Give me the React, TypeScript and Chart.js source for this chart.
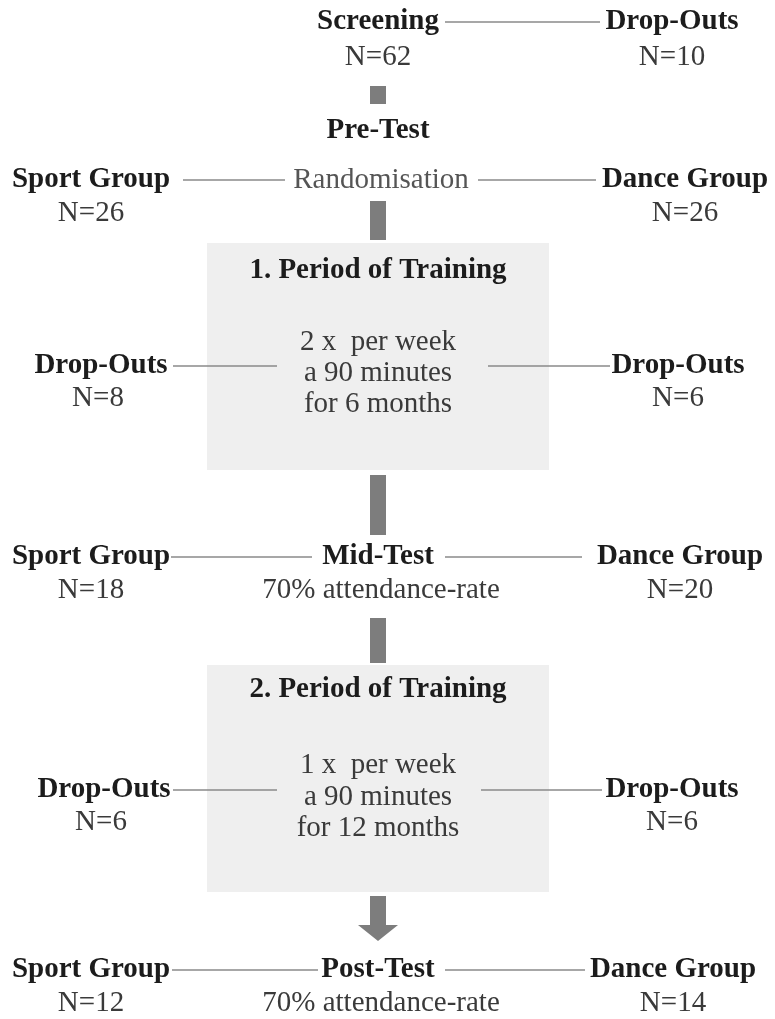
import React, { useEffect, useRef } from "react";
import { Chart, registerables } from "chart.js";

Chart.register(...registerables);

// ---- values ----
const screeningLabel = "Screening";
const screeningN = 62;
const screeningDropOuts = 10;
const stageLabels = ["Pre-Test", "Mid-Test", "Post-Test"];
const stageNotes = ["Randomisation", "70% attendance-rate", "70% attendance-rate"];
const groupLabels = ["Sport Group", "Dance Group"];
const sportN = [26, 18, 12];
const danceN = [26, 20, 14];
const periodTitles = ["1. Period of Training", "2. Period of Training"];
const periodLines = [
  ["2 x  per week", "a 90 minutes", "for 6 months"],
  ["1 x  per week", "a 90 minutes", "for 12 months"],
];
const dropOutLabel = "Drop-Outs";
const dropOutsSport = [8, 6];
const dropOutsDance = [6, 6];

// ---- layout (data space = 775 x 1019, y downward) ----
const W = 775;
const H = 1019;
const CX = 378;
const groupRowsY = [180, 557, 970];
const groupXs = [[91, 685], [91, 680], [91, 673]];
const stageTitleY = [131, 557, 970];
const boxes = [
  { x0: 207, x1: 549, y0: 243, y1: 470 },
  { x0: 207, x1: 549, y0: 665, y1: 892 },
];
const boxTitleY = [271, 690];
const boxLinesY = [[342, 373, 404], [765, 797, 828]];
const dropRowY = [366, 790];
const dropXs = [[101, 678], [104, 672]];

const BOLD = (s: number) => `bold ${s}px "Liberation Serif", "Times New Roman", serif`;
const REG = (s: number) => `${s}px "Liberation Serif", "Times New Roman", serif`;
const DARK = "#1c1c1c";
const MID = "#3a3a3a";
const LIGHT = "#555555";
const LINE = "#8a8a8a";
const BAR = "#7d7d7d";
const BOXFILL = "#efefef";
const FS = 29;

const flowPlugin = {
  id: "flow",
  afterDatasetsDraw(chart: any) {
    const ctx = chart.ctx;
    const sx = chart.scales.x;
    const sy = chart.scales.y;
    const X = (v: number) => sx.getPixelForValue(v);
    const Y = (v: number) => sy.getPixelForValue(v);
    ctx.save();

    // boxes
    ctx.fillStyle = BOXFILL;
    boxes.forEach((b) => {
      ctx.fillRect(X(b.x0), Y(b.y0), X(b.x1) - X(b.x0), Y(b.y1) - Y(b.y0));
    });

    // thick connector bars
    ctx.fillStyle = BAR;
    const bars = [
      [86, 104],
      [201, 240],
      [475, 535],
      [618, 663],
      [896, 926],
    ];
    bars.forEach(([a, b]) => {
      ctx.fillRect(X(CX - 8), Y(a), X(CX + 8) - X(CX - 8), Y(b) - Y(a));
    });
    // arrow head
    ctx.beginPath();
    ctx.moveTo(X(CX - 20), Y(925));
    ctx.lineTo(X(CX + 20), Y(925));
    ctx.lineTo(X(CX), Y(941));
    ctx.closePath();
    ctx.fill();

    // thin lines
    ctx.strokeStyle = LINE;
    ctx.lineWidth = 1.6;
    const hl = (x0: number, x1: number, y: number) => {
      ctx.beginPath();
      ctx.moveTo(X(x0), Y(y));
      ctx.lineTo(X(x1), Y(y));
      ctx.stroke();
    };
    hl(445, 600, 22);
    hl(183, 285, 180);
    hl(478, 596, 180);
    hl(173, 277, 366);
    hl(488, 610, 366);
    hl(171, 312, 557);
    hl(445, 582, 557);
    hl(173, 277, 790);
    hl(481, 602, 790);
    hl(172, 318, 970);
    hl(445, 585, 970);

    // text
    ctx.textAlign = "center";
    ctx.textBaseline = "middle";
    const t = (s: string, x: number, y: number, font: string, color: string) => {
      ctx.font = font;
      ctx.fillStyle = color;
      ctx.fillText(s, X(x), Y(y));
    };
    t(screeningLabel, CX, 22, BOLD(FS), DARK);
    t(`N=${screeningN}`, CX, 57, REG(FS), MID);
    t(dropOutLabel, 672, 22, BOLD(FS), DARK);
    t(`N=${screeningDropOuts}`, 672, 57, REG(FS), MID);

    stageLabels.forEach((s, i) => {
      t(s, CX, stageTitleY[i], BOLD(FS), DARK);
    });
    t(stageNotes[0], 381, 180, REG(FS), LIGHT);
    t(stageNotes[1], CX + 3, 590, REG(FS), MID);
    t(stageNotes[2], CX + 3, 1003, REG(FS), MID);

    groupRowsY.forEach((y, i) => {
      t(groupLabels[0], groupXs[i][0], y, BOLD(FS), DARK);
      t(`N=${sportN[i]}`, groupXs[i][0], y + 33, REG(FS), MID);
      t(groupLabels[1], groupXs[i][1], y, BOLD(FS), DARK);
      t(`N=${danceN[i]}`, groupXs[i][1], y + 33, REG(FS), MID);
    });

    periodTitles.forEach((s, i) => {
      t(s, CX, boxTitleY[i], BOLD(FS), DARK);
      periodLines[i].forEach((ln, j) => t(ln, CX, boxLinesY[i][j], REG(FS), MID));
      t(dropOutLabel, dropXs[i][0], dropRowY[i], BOLD(FS), DARK);
      t(`N=${dropOutsSport[i]}`, dropXs[i][0] - 3, dropRowY[i] + 32, REG(FS), MID);
      t(dropOutLabel, dropXs[i][1], dropRowY[i], BOLD(FS), DARK);
      t(`N=${dropOutsDance[i]}`, dropXs[i][1], dropRowY[i] + 32, REG(FS), MID);
    });

    ctx.restore();
  },
};

export default function App() {
  const ref = useRef<HTMLCanvasElement | null>(null);
  useEffect(() => {
    if (!ref.current) return;
    const pts = [{ x: CX, y: 22 }, ...stageTitleY.map((y) => ({ x: CX, y }))];
    const chart = new Chart(ref.current, {
      type: "scatter",
      data: {
        datasets: [
          { label: "stages", data: pts, pointRadius: 0, showLine: false },
        ],
      },
      options: {
        animation: false,
        responsive: false,
        devicePixelRatio: 1,
        layout: { padding: 0 },
        plugins: { legend: { display: false }, tooltip: { enabled: false } },
        scales: {
          x: { type: "linear", min: 0, max: W, display: false },
          y: { type: "linear", min: 0, max: H, reverse: true, display: false },
        },
      },
      plugins: [flowPlugin],
    });
    return () => chart.destroy();
  }, []);
  return (
    <div style={{ position: "absolute", left: 0, top: 0, width: W, height: H, background: "#fff" }}>
      <canvas ref={ref} width={W} height={H} />
    </div>
  );
}
